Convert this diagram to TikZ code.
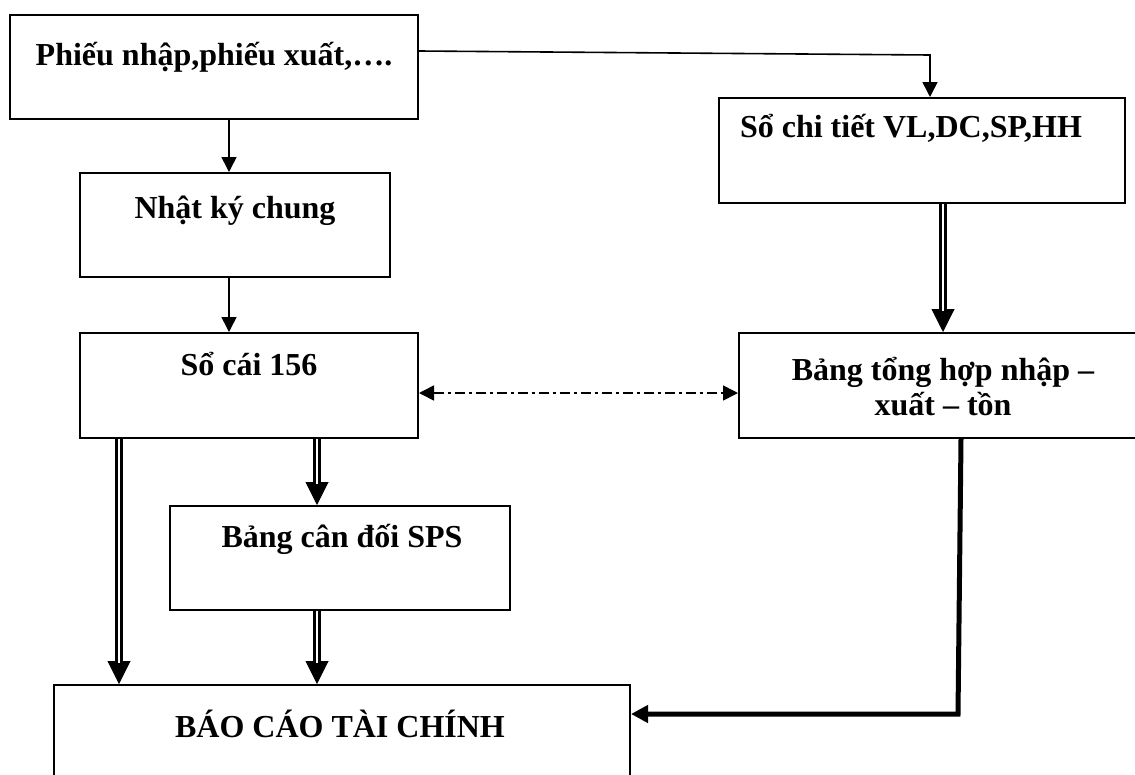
\documentclass[tikz,border=0pt]{standalone}
\usepackage{fontspec}
\setmainfont{Liberation Serif}
\usetikzlibrary{arrows.meta,backgrounds,calc}
\newcommand\dblarrow[2]{\draw[dblhead] #1 -- #2; \draw[dbl] #1 -- #2;}
\begin{document}
\begin{tikzpicture}[x=1pt,y=-1pt,
  box/.style={draw, line width=2pt, inner sep=0pt, rectangle},
  txt/.style={font=\fontsize{32}{30}\selectfont\bfseries, inner sep=0pt, anchor=base},
  thinarr/.style={line width=1.6pt, line join=miter, -{Triangle[length=15pt,width=15pt]}},
  dblhead/.style={line width=1pt, -{Triangle[length=23pt,width=23pt]}},
  dbl/.style={double, line width=2.3pt, double distance=2.6pt, shorten >=21pt},
  thickarr/.style={line width=5pt, line join=miter, -{Triangle[length=17pt,width=17pt]}},
  dashdot/.style={line width=1.6pt, dash pattern=on 10pt off 4pt on 3pt off 4pt, {Triangle[length=15pt,width=15pt]}-{Triangle[length=15pt,width=15pt]}},
]
\useasboundingbox (0,0) rectangle (1135,774);
\clip (0,0) rectangle (1135,774);

% boxes
\node[box, minimum width=408pt, minimum height=104pt] (p1) at (214,67) {};
\node[box, minimum width=310pt, minimum height=104pt] (nkc) at (235,225) {};
\node[box, minimum width=338pt, minimum height=105pt] (sc) at (249,385.5) {};
\node[box, minimum width=406pt, minimum height=105pt] (sct) at (922,150.5) {};
\node[box, minimum width=408pt, minimum height=105pt] (bth) at (943,385.5) {};
\node[box, minimum width=340pt, minimum height=104pt] (bcd) at (340,558) {};
\node[box, minimum width=576pt, minimum height=110pt] (bc) at (342,740) {};

% texts
\node[txt] (t1) at (214,65) {Phiếu nhập,phiếu xuất,….};
\node[txt] (t2) at (235,218) {Nhật ký chung};
\node[txt] (t3) at (249,375) {Sổ cái 156};
\node[txt] (t4) at (911,137) {Sổ chi tiết VL,DC,SP,HH};
\node[txt] (t5a) at (943,380) {Bảng tổng hợp nhập –};
\node[txt] (t5b) at (943,415) {xuất – tồn};
\node[txt] (t6) at (342,547) {Bảng cân đối SPS};
\node[txt] (t7) at (340,737) {BÁO CÁO TÀI CHÍNH};

% helper coordinates
\coordinate (xa) at (229,0);
\coordinate (xb) at (930,55);
\coordinate (xc) at (943,0);
\coordinate (yd) at (0,393);
\coordinate (xe) at (119,0);
\coordinate (xf) at (317,0);
\coordinate (c1) at (961,0);
\coordinate (c2) at (958,714);

\begin{scope}[on background layer]
\draw[thinarr] (p1.south -| xa) -- (nkc.north -| xa);
\draw[thinarr] (nkc.south -| xa) -- (sc.north -| xa);
\draw[thinarr] ([yshift=-37pt]p1.north east) -- (xb) -- (sct.north -| xb);
\dblarrow{(sct.south -| xc)}{(bth.north -| xc)}
\draw[dashdot] (sc.east |- yd) -- (bth.west |- yd);
\dblarrow{(sc.south -| xe)}{(bc.north -| xe)}
\dblarrow{(sc.south -| xf)}{(bcd.north -| xf)}
\dblarrow{(bcd.south -| xf)}{(bc.north -| xf)}
\draw[thickarr] (bth.south -| c1) -- (c2) -- (bc.east |- c2);
\end{scope}
\end{tikzpicture}
\end{document}
